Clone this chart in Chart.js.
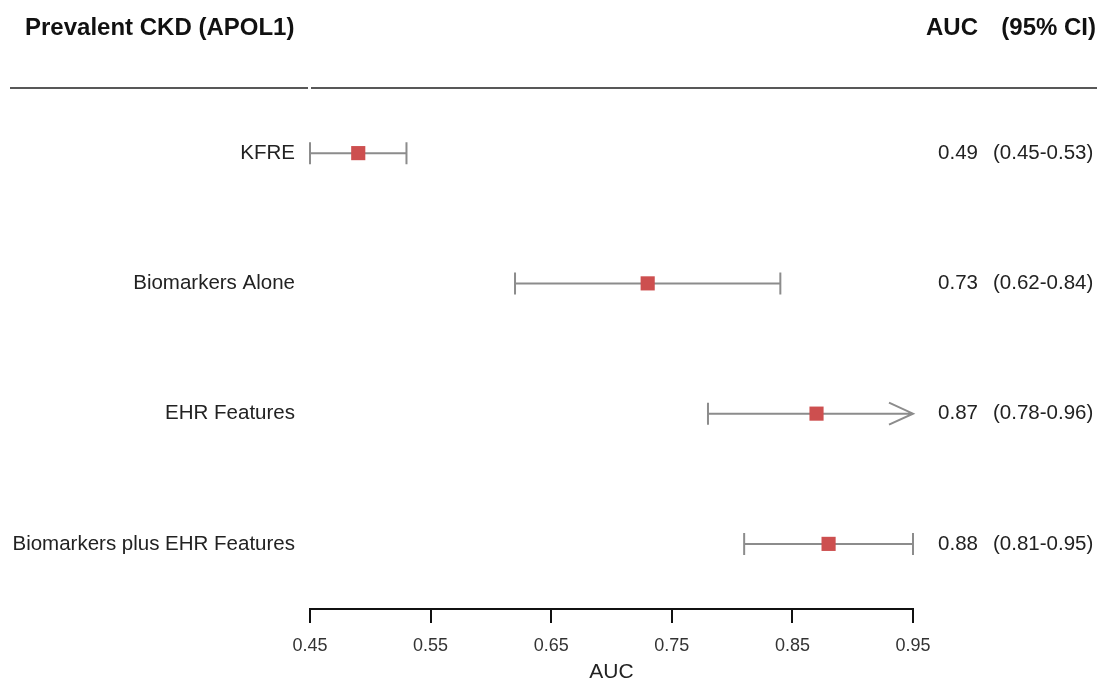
<!DOCTYPE html>
<html lang="en">
<head>
<meta charset="UTF-8">
<title>Prevalent CKD (APOL1)</title>
<script src="https://cdn.jsdelivr.net/npm/chart.js"></script>
<style>
  html, body { margin: 0; padding: 0; background: #fff; }
  #wrap { width: 1099px; height: 681px; }
</style>
</head>
<body>
<div id="wrap"><canvas id="forest"></canvas></div>
<script>
// data
const models = ['KFRE', 'Biomarkers Alone', 'EHR Features', 'Biomarkers plus EHR Features'];
const auc = [0.49, 0.73, 0.87, 0.88];
const ciLow = [0.45, 0.62, 0.78, 0.81];
const ciHigh = [0.53, 0.84, 0.96, 0.95];
const xTicks = [0.45, 0.55, 0.65, 0.75, 0.85, 0.95];
const xMin = 0.45, xMax = 0.95;

const FONT = '"Liberation Sans", Arial, sans-serif';
const barColor = '#8c8c8c';
const boxColor = '#cd4f4f';

// whiskers, arrow for CI running past the axis, right-hand text and header
const forestPlugin = {
  id: 'forest',
  beforeDatasetsDraw(chart) {
    const ctx = chart.ctx, xs = chart.scales.x, ys = chart.scales.y;
    ctx.save();
    ctx.strokeStyle = barColor;
    ctx.lineWidth = 2;
    models.forEach((m, i) => {
      const y = ys.getPixelForValue(i);
      const x0 = xs.getPixelForValue(Math.max(ciLow[i], xMin));
      const over = ciHigh[i] > xMax;
      const x1 = xs.getPixelForValue(Math.min(ciHigh[i], xMax));
      ctx.beginPath();
      ctx.moveTo(x0, y); ctx.lineTo(x1, y);
      ctx.moveTo(x0, y - 11); ctx.lineTo(x0, y + 11);
      if (over) {
        ctx.moveTo(x1 - 24, y - 11); ctx.lineTo(x1, y); ctx.lineTo(x1 - 24, y + 11);
      } else {
        ctx.moveTo(x1, y - 11); ctx.lineTo(x1, y + 11);
      }
      ctx.stroke();
    });
    ctx.restore();
  },
  afterDraw(chart) {
    const ctx = chart.ctx, ys = chart.scales.y, area = chart.chartArea;
    ctx.save();
    ctx.fillStyle = '#222';
    ctx.textBaseline = 'middle';
    ctx.font = '20.5px ' + FONT;
    models.forEach((m, i) => {
      const y = ys.getPixelForValue(i);
      ctx.textAlign = 'right';
      ctx.fillText(auc[i].toFixed(2), 978, y);
      ctx.textAlign = 'left';
      ctx.fillText('(' + ciLow[i].toFixed(2) + '-' + ciHigh[i].toFixed(2) + ')', 993, y);
    });
    ctx.font = 'bold 24px ' + FONT;
    ctx.fillStyle = '#111';
    ctx.textAlign = 'left';
    ctx.fillText('Prevalent CKD (APOL1)', 25, 28);
    ctx.textAlign = 'right';
    ctx.fillText('AUC', 978, 28);
    ctx.fillText('(95% CI)', 1096, 28);
    ctx.strokeStyle = '#222';
    ctx.lineWidth = 1.5;
    ctx.beginPath();
    ctx.moveTo(10, 88); ctx.lineTo(area.left - 2, 88);
    ctx.moveTo(area.left + 1, 88); ctx.lineTo(1097, 88);
    ctx.stroke();
    ctx.restore();
  }
};

const points = models.map((m, i) => ({ x: auc[i], y: m }));

new Chart(document.getElementById('forest'), {
  type: 'scatter',
  data: {
    datasets: [{
      data: points,
      pointStyle: 'rect',
      pointRadius: 10,
      pointHoverRadius: 10,
      backgroundColor: boxColor,
      borderColor: boxColor,
      borderWidth: 0
    }]
  },
  options: {
    responsive: true,
    maintainAspectRatio: false,
    animation: false,
    events: [],
    layout: { padding: { left: 0, right: 186, top: 88, bottom: 0 } },
    plugins: { legend: { display: false }, tooltip: { enabled: false } },
    scales: {
      x: {
        type: 'linear',
        min: xMin,
        max: xMax,
        afterBuildTicks: s => { s.ticks = xTicks.map(v => ({ value: v })); },
        ticks: {
          callback: v => Number(v).toFixed(2),
          color: '#333',
          font: { family: FONT, size: 18, lineHeight: 1 },
          padding: 14,
          maxRotation: 0,
          autoSkip: false
        },
        grid: { display: true, drawOnChartArea: false, drawTicks: true, tickLength: 14, color: '#111', lineWidth: 2 },
        border: { display: true, color: '#111', width: 2 },
        title: {
          display: true,
          text: 'AUC',
          color: '#222',
          font: { family: FONT, size: 21, lineHeight: 1 },
          padding: { top: -7, bottom: -2 }
        }
      },
      y: {
        type: 'category',
        labels: models,
        offset: true,
        afterFit: s => { s.width = 310; },
        ticks: {
          color: '#222',
          font: { family: FONT, size: 20.5 },
          padding: 15
        },
        grid: { display: false, drawTicks: false },
        border: { display: false }
      }
    }
  },
  plugins: [forestPlugin]
});
</script>
</body>
</html>
